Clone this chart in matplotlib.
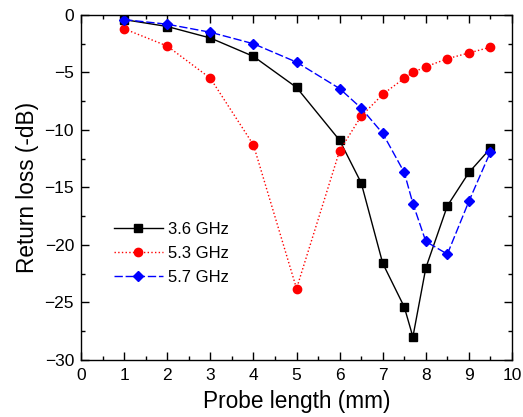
import matplotlib
matplotlib.use("Agg")
import matplotlib.pyplot as plt
from matplotlib.ticker import MultipleLocator

plt.rcParams['font.family'] = ['Liberation Sans', 'DejaVu Sans']

# --- Data ---
probe_len = [1, 2, 3, 4, 5, 6, 6.5, 7, 7.5, 7.7, 8, 8.5, 9, 9.5]
rl_36 = [-0.4, -1.0, -2.0, -3.6, -6.3, -10.9, -14.6, -21.6, -25.4, -28.0, -22.0, -16.6, -13.7, -11.6]
rl_53 = [-1.2, -2.7, -5.5, -11.3, -23.8, -11.8, -8.8, -6.9, -5.5, -5.0, -4.5, -3.8, -3.3, -2.8]
rl_57 = [-0.4, -0.8, -1.5, -2.5, -4.1, -6.4, -8.1, -10.3, -13.7, -16.4, -19.7, -20.8, -16.2, -11.9]

fig = plt.figure(figsize=(5.23, 4.17), dpi=100)
ax = fig.add_axes([0.155, 0.137, 0.824, 0.827])

ax.plot(probe_len, rl_36, color='black', ls='-', lw=1.0,
        marker='s', ms=5.5, label='3.6 GHz')
ax.plot(probe_len, rl_53, color='red', ls=':', lw=1.0,
        marker='o', ms=6, label='5.3 GHz')
ax.plot(probe_len, rl_57, color='blue', ls=(0, (6, 2)), lw=1.0,
        marker='D', ms=5, label='5.7 GHz')

ax.set_xlim(0, 10)
ax.set_ylim(-30, 0)
ax.xaxis.set_major_locator(MultipleLocator(1))
ax.xaxis.set_minor_locator(MultipleLocator(0.5))
ax.yaxis.set_major_locator(MultipleLocator(5))
ax.yaxis.set_minor_locator(MultipleLocator(2.5))
ax.tick_params(which='both', direction='in', top=True, right=True,
               labelsize=12.5, width=1)
ax.tick_params(which='major', length=6)
ax.tick_params(which='minor', length=3)
ax.tick_params(axis='x', pad=6)
ax.tick_params(axis='y', pad=5)
for s in ax.spines.values():
    s.set_linewidth(1)

ax.set_xlabel('Probe length (mm)', fontsize=16.3, labelpad=5)
ax.set_ylabel('Return loss (-dB)', fontsize=16.3, labelpad=4)

ax.legend(loc='upper left', bbox_to_anchor=(0.05, 0.435), frameon=False,
          fontsize=12, handlelength=2.9, handletextpad=0.3,
          labelspacing=0.55, borderpad=0.2)

fig.savefig('out.png', dpi=100)
